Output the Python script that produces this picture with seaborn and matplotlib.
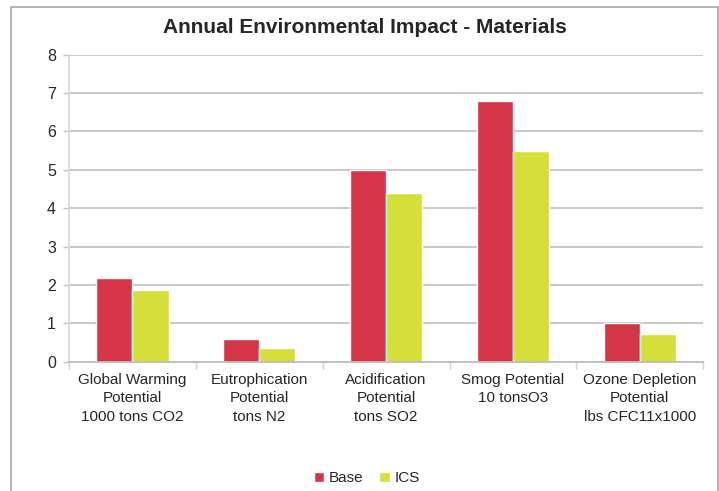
##################################### Importing Packages #####################################
import pandas as pd  #Used to build the long table for seaborn
import seaborn as sns #Used to create barplot
import matplotlib.pyplot as plt #Used to edit plot
from matplotlib.patches import Rectangle #Used for the chart border

##################################### Data #####################################

# Categories on x-axis (with line breaks as in the original chart)
categories = ["Global Warming\nPotential\n1000 tons CO2",
              "Eutrophication\nPotential\ntons N2",
              "Acidification\nPotential\ntons SO2",
              "Smog Potential\n10 tonsO3",
              "Ozone Depletion\nPotential\nlbs CFC11x1000"]

base_values = [2.18, 0.60, 5.00, 6.80, 1.00] # Base scenario
ics_values = [1.88, 0.35, 4.40, 5.50, 0.72] # ICS scenario

series_names = ["Base", "ICS"]
y_ticks = [0, 1, 2, 3, 4, 5, 6, 7, 8]

##################################### Settings #####################################

graph_title = "Annual Environmental Impact - Materials"
bar_colors = ["#D63447", "#D4DF3A"]
grid_color = "#C4C4C4"
export_name = "out.png"

##################################### Building Data #####################################

df = pd.DataFrame({
    "Category": categories * 2,
    "Value": base_values + ics_values,
    "Scenario": [series_names[0]] * len(categories) + [series_names[1]] * len(categories),
})

##################################### Visualizing Data #####################################

sns.set_theme(style="white")
plt.rcParams["font.family"] = ["Liberation Sans", "DejaVu Sans"]

fig = plt.figure(figsize=(7.19, 4.91), dpi=100)
ax = fig.add_axes([0.096, 0.263, 0.882, 0.626])

sns.barplot(data=df, x="Category", y="Value", hue="Scenario", palette=bar_colors,
            width=0.57, saturation=1, ax=ax, legend=True)

######## Y - Axis ########
ax.set_ylim(0, 8)
ax.set_yticks(y_ticks)
ax.set_yticklabels([str(t) for t in y_ticks], fontsize=11.5)
ax.yaxis.grid(True, color=grid_color, linewidth=1.3)
ax.set_axisbelow(True)
ax.tick_params(axis="y", which="major", left=True, length=4.5, width=1, color=grid_color, pad=5)

######## X - Axis ########
ax.set_xlim(-0.5, len(categories) - 0.5)
ax.set_xticks([i - 0.5 for i in range(len(categories) + 1)], minor=True)
ax.tick_params(axis="x", which="minor", bottom=True, length=5, width=1, color="#D0D0D0")
ax.tick_params(axis="x", which="major", bottom=False, length=0, pad=8, labelsize=11)
for lbl in ax.get_xticklabels():
    lbl.set_linespacing(1.4)

ax.set_xlabel("")
ax.set_ylabel("")

######## Spines ########
for side in ["top", "right"]:
    ax.spines[side].set_visible(False)
ax.spines["left"].set_color("#D8D8D8")
ax.spines["bottom"].set_color("#BDBDBD")
ax.spines["bottom"].set_linewidth(1.3)

######## Title, Legend ########
fig.text(0.508, 0.945, graph_title, ha="center", va="center", fontsize=15, fontweight="bold")

handles, labels = ax.get_legend_handles_labels()
ax.get_legend().remove()
fig.legend(handles, labels, loc="center", bbox_to_anchor=(0.51, 0.026), ncol=2, frameon=False,
           fontsize=11, handlelength=0.7, handleheight=0.7, handletextpad=0.3, columnspacing=1.0)

######## Chart border ########
fig.patches.append(Rectangle((11 / 719, -0.02), 707 / 719, 1.006, transform=fig.transFigure,
                             fill=False, edgecolor="#A8A8A8", linewidth=1.2))

# Save the plot
plt.savefig(export_name, dpi=100)
